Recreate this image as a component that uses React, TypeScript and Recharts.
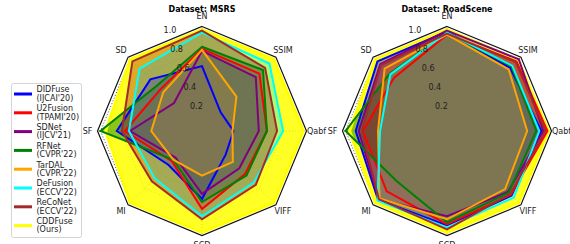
import { RadarChart, Radar, PolarGrid, PolarAngleAxis, PolarRadiusAxis } from 'recharts';

const METRICS = ['EN', 'SSIM', 'Qabf', 'VIFF', 'SCD', 'MI', 'SF', 'SD'];
const METHODS = ['DIDFuse', 'U2Fusion', 'SDNet', 'RFNet', 'TarDAL', 'DeFusion', 'ReCoNet', 'CDDFuse'];
const VENUES = ["(IJCAI'20)", "(TPAMI'20)", "(IJCV'21)", "(CVPR'22)", "(CVPR'22)", "(ECCV'22)", "(ECCV'22)", '(Ours)'];
const COLORS = ['#0000ff', '#ff0000', '#800080', '#008000', '#ffa500', '#00ffff', '#a52a2a', '#ffff00'];
const RADIUS_TICKS = [0.2, 0.4, 0.6, 0.8, 1.0];

// MSRS, axis order as METRICS
const MSRS_DIDFUSE = [0.64, 0.26, 0.31, 0.33, 0.67, 0.47, 0.84, 0.72];
const MSRS_U2FUSION = [0.81, 0.8, 0.64, 0.6, 0.77, 0.42, 0.76, 0.58];
const MSRS_SDNET = [0.79, 0.75, 0.56, 0.52, 0.62, 0.37, 0.71, 0.39];
const MSRS_RFNET = [0.83, 0.85, 0.64, 0.62, 0.7, 0.4, 1.0, 0.63];
const MSRS_TARDAL = [0.8, 0.48, 0.3, 0.43, 0.44, 0.4, 0.5, 0.54];
const MSRS_DEFUSION = [0.97, 0.94, 0.8, 0.72, 0.84, 0.66, 0.72, 0.87];
const MSRS_RECONET = [0.99, 0.88, 0.74, 0.75, 0.87, 0.7, 0.79, 0.97];
const MSRS_CDDFUSE = [1.0, 1.0, 1.0, 1.0, 1.0, 1.0, 0.95, 1.0];

// RoadScene
const ROAD_DIDFUSE = [0.98, 0.88, 0.93, 0.9, 0.93, 0.96, 0.9, 0.97];
const ROAD_U2FUSION = [0.95, 0.97, 0.99, 0.89, 0.92, 0.84, 0.83, 0.74];
const ROAD_SDNET = [0.99, 1.0, 0.95, 0.85, 0.84, 0.95, 0.87, 0.93];
const ROAD_RFNET = [0.97, 0.9, 0.88, 0.86, 0.9, 0.7, 1.0, 0.8];
const ROAD_TARDAL = [0.95, 0.86, 0.79, 0.81, 0.87, 0.94, 0.68, 0.87];
const ROAD_DEFUSION = [0.97, 0.91, 0.91, 0.93, 0.95, 0.97, 0.66, 0.79];
const ROAD_RECONET = [0.96, 0.96, 0.97, 0.88, 0.97, 0.95, 0.84, 0.92];
const ROAD_CDDFUSE = [1.0, 0.99, 1.0, 1.0, 1.0, 1.0, 0.96, 1.0];

const MSRS = [MSRS_DIDFUSE, MSRS_U2FUSION, MSRS_SDNET, MSRS_RFNET, MSRS_TARDAL, MSRS_DEFUSION, MSRS_RECONET, MSRS_CDDFUSE];
const ROAD = [ROAD_DIDFUSE, ROAD_U2FUSION, ROAD_SDNET, ROAD_RFNET, ROAD_TARDAL, ROAD_DEFUSION, ROAD_RECONET, ROAD_CDDFUSE];

// yellow underneath, the rest in legend order
const DRAW_ORDER = [7, 0, 1, 2, 3, 4, 5, 6];
const FILL_OPACITY = [0.4, 0.35, 0.35, 0.45, 0.4, 0.35, 0.4, 0.85];

const FONT = 'DejaVu Sans, sans-serif';
const R = 104.5;
const RMAX = 1.03;

function buildRows(series: number[][]) {
  return METRICS.map((m, i) => {
    const row: Record<string, number | string> = { metric: m };
    METHODS.forEach((name, k) => {
      row[name] = series[k][i];
    });
    return row;
  });
}

const AngleTick = (props: any) => {
  const { x, y, payload } = props;
  return (
    <text x={x} y={y} textAnchor="middle" dominantBaseline="central" fontSize={8} fontFamily={FONT} fill="#222">
      {payload.value}
    </text>
  );
};

const RadiusTick = (props: any) => {
  const { x, y, payload } = props;
  return (
    <text x={x + 1} y={y - 5} textAnchor="middle" dominantBaseline="central" fontSize={8} fontFamily={FONT} fill="#222">
      {Number(payload.value).toFixed(1)}
    </text>
  );
};

function Radial({ series, title, left }: { series: number[][]; title: string; left: number }) {
  const rows = buildRows(series);
  return (
    <div style={{ position: 'absolute', left, top: 0, width: 290, height: 244 }}>
      <RadarChart width={290} height={244} data={rows} cx={145} cy={131} outerRadius={R} margin={{ top: 0, right: 0, bottom: 0, left: 0 }}>
        <PolarGrid gridType="polygon" stroke="#222" strokeWidth={0.8} strokeDasharray="1 2" />
        <PolarAngleAxis
          dataKey="metric"
          tick={<AngleTick />}
          tickSize={10}
          tickLine={false}
          axisLineType="polygon"
          axisLine={{ stroke: '#111', strokeWidth: 1.2 }}
        />
        <PolarRadiusAxis
          angle={109}
          type="number"
          domain={[0, RMAX]}
          ticks={RADIUS_TICKS as any}
          tick={<RadiusTick />}
          axisLine={false}
          tickLine={false}
        />
        {/* fills first */}
        {DRAW_ORDER.map((k) => (
          <Radar
            key={'f' + METHODS[k]}
            dataKey={METHODS[k]}
            stroke="none"
            fill={COLORS[k]}
            fillOpacity={FILL_OPACITY[k]}
            dot={false}
            legendType="none"
            isAnimationActive={false}
          />
        ))}
        {/* then outlines on top */}
        {DRAW_ORDER.map((k) => (
          <Radar
            key={'l' + METHODS[k]}
            dataKey={METHODS[k]}
            stroke={COLORS[k]}
            strokeWidth={k === 7 ? 3 : 2}
            fill="none"
            fillOpacity={0}
            dot={false}
            isAnimationActive={false}
          />
        ))}
      </RadarChart>
      <div
        style={{
          position: 'absolute',
          left: 0,
          top: 5,
          width: 290,
          textAlign: 'center',
          fontFamily: FONT,
          fontWeight: 'bold',
          fontSize: 8,
          lineHeight: '10px',
          color: '#000',
        }}
      >
        {title}
      </div>
    </div>
  );
}

function Legend() {
  return (
    <svg style={{ position: 'absolute', left: 0, top: 0 }} width={100} height={244}>
      <rect x={11.5} y={83.5} width={70} height={154} rx={2} fill="#fff" stroke="#d4d4d4" strokeWidth={1} />
      {METHODS.map((name, i) => {
        const yc = 94 + i * 18.8;
        return (
          <g key={name}>
            <line x1={14} x2={32} y1={yc} y2={yc} stroke={COLORS[i]} strokeWidth={3} />
            <text x={36.5} y={yc - 4.2} dominantBaseline="central" fontSize={8} fontFamily={FONT} fill="#222">
              {name}
            </text>
            <text x={36.5} y={yc + 4.2} dominantBaseline="central" fontSize={8} fontFamily={FONT} fill="#222">
              {VENUES[i]}
            </text>
          </g>
        );
      })}
    </svg>
  );
}

export default function App() {
  return (
    <div style={{ position: 'absolute', left: 0, top: 0, width: 570, height: 244, overflow: 'hidden', background: '#fff' }}>
      <Radial series={MSRS} title="Dataset: MSRS" left={57} />
      <Radial series={ROAD} title="Dataset: RoadScene" left={302} />
      <Legend />
    </div>
  );
}
